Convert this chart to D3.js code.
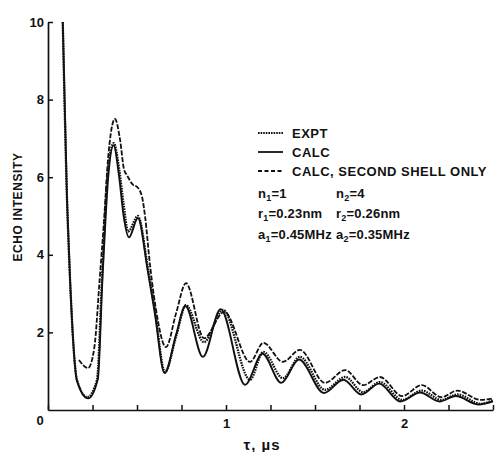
<!DOCTYPE html>
<html><head><meta charset="utf-8">
<script src="https://cdn.jsdelivr.net/npm/d3@7"></script>
<style>
html,body{margin:0;padding:0;background:#fff;}
svg text{font-family:"Liberation Sans",Arial,Helvetica,sans-serif;fill:#111;font-weight:bold;}
</style></head>
<body>
<svg id="c" width="495" height="452"></svg>
<script>
// ---- data ----
const xTicks = [0, 0.25, 0.5, 0.75, 1, 1.25, 1.5, 1.75, 2, 2.25, 2.5];
const xTickLabels = {0: "0", 1: "1", 2: "2"};
const yTicks = [2, 4, 6, 8, 10];
const yTickLabels = ["2", "4", "6", "8", "10"];

const tauExpt = [0.083,0.107,0.124,0.163,0.22,0.275,0.303,0.337,0.37,0.40,0.425,0.45,0.505,0.56,0.60,0.657,0.72,0.775,0.876,0.983,1.135,1.21,1.32,1.415,1.556,1.67,1.77,1.865,1.99,2.1,2.21,2.3,2.43,2.5];
const valExpt = [10.0,5.4,3.35,0.77,0.33,0.77,3.35,6.2,6.88,6.2,5.3,4.6,5.0,3.7,2.6,0.98,1.9,2.7,1.75,2.58,0.78,1.5,0.82,1.37,0.52,0.85,0.46,0.72,0.26,0.5,0.26,0.4,0.16,0.26];

const tauCalc = [0.083,0.107,0.124,0.163,0.225,0.28,0.306,0.34,0.368,0.40,0.425,0.455,0.505,0.56,0.60,0.655,0.72,0.772,0.87,0.97,1.107,1.205,1.31,1.41,1.55,1.66,1.76,1.86,1.98,2.09,2.2,2.29,2.42,2.5];
const valCalc = [10.0,5.4,3.35,0.75,0.3,0.8,3.4,6.1,6.82,6.0,5.0,4.45,4.95,3.6,2.5,0.95,1.95,2.68,1.37,2.6,0.65,1.45,0.7,1.3,0.44,0.78,0.4,0.68,0.22,0.45,0.22,0.36,0.14,0.22];

const tauShell2 = [0.174,0.225,0.26,0.29,0.315,0.337,0.376,0.405,0.427,0.444,0.478,0.5,0.528,0.545,0.573,0.607,0.663,0.72,0.775,0.876,0.99,1.135,1.21,1.32,1.415,1.556,1.67,1.77,1.865,1.99,2.1,2.21,2.3,2.43,2.5];
const valShell2 = [1.29,1.08,1.6,3.35,4.9,6.45,7.5,6.96,6.2,6.05,5.8,5.75,5.5,5.0,3.74,2.58,1.62,2.5,3.27,1.85,2.53,1.24,1.73,1.24,1.55,0.7,1.03,0.64,0.85,0.36,0.64,0.33,0.5,0.26,0.3];

const legendLabels = ["EXPT", "CALC", "CALC, SECOND SHELL ONLY"];
const paramLeft = [["n","1","=1"], ["r","1","=0.23nm"], ["a","1","=0.45MHz"]];
const paramRight = [["n","2","=4"], ["r","2","=0.26nm"], ["a","2","=0.35MHz"]];

// ---- drawing ----
const svg = d3.select("#c");
const x = d3.scaleLinear().domain([0, 2.5]).range([48, 493]);
const y = d3.scaleLinear().domain([0, 10]).range([410, 22]);

const series = [
  {tau: tauExpt, val: valExpt, dash: "1.6,1", w: 2.3},
  {tau: tauCalc, val: valCalc, dash: null, w: 1.9},
  {tau: tauShell2, val: valShell2, dash: "5,1.6", w: 1.8}
];

const line = d3.line().x(d => x(d[0])).y(d => y(d[1])).curve(d3.curveMonotoneX);
series.forEach(s => {
  const pts = s.tau.map((t, i) => [t, s.val[i]]);
  svg.append("path").attr("d", line(pts)).attr("fill", "none")
    .attr("stroke", "#111").attr("stroke-width", s.w)
    .attr("stroke-dasharray", s.dash).attr("stroke-linejoin", "round");
});

// axes
const xAxis = d3.axisBottom(x).tickValues(xTicks).tickSizeInner(-5).tickSizeOuter(0)
  .tickFormat(d => xTickLabels[d] !== undefined && d !== 0 ? xTickLabels[d] : "");
const gx = svg.append("g").attr("transform", "translate(0,410)").call(xAxis);
const yAxis = d3.axisLeft(y).tickValues(yTicks).tickSizeInner(-5).tickSizeOuter(0)
  .tickFormat((d, i) => yTickLabels[i]);
const gy = svg.append("g").attr("transform", "translate(48,0)").call(yAxis);
[gx, gy].forEach(g => {
  g.select(".domain").attr("stroke", "#111").attr("stroke-width", 1.7);
  g.selectAll(".tick line").attr("stroke", "#111").attr("stroke-width", 1.5);
  g.selectAll(".tick text").attr("font-size", 13).attr("fill", "#111")
    .style("font-family", "'Liberation Sans',Arial,sans-serif").style("font-weight", "bold");
});
gx.selectAll(".tick text").attr("y", 9).attr("dy", "0.71em");
gy.selectAll(".tick text").attr("x", -4);
// origin label
svg.append("text").attr("x", 40).attr("y", 425).attr("text-anchor", "middle")
  .attr("font-size", 13).text(xTickLabels[0]);

// axis titles
svg.append("text").attr("transform", "translate(22,207) rotate(-90)")
  .attr("text-anchor", "middle").attr("font-size", 12).attr("letter-spacing", 0.6)
  .text("ECHO INTENSITY");
svg.append("text").attr("x", 262).attr("y", 450).attr("text-anchor", "middle")
  .attr("font-size", 15).attr("letter-spacing", 1).text("τ, µs");

// legend
const legY = [133, 152, 171];
legendLabels.forEach((lab, i) => {
  const s = series[i];
  svg.append("line").attr("x1", 258).attr("x2", 283).attr("y1", legY[i]).attr("y2", legY[i])
    .attr("stroke", "#111").attr("stroke-width", i === 0 ? 2.2 : 1.8)
    .attr("stroke-dasharray", i === 2 ? "4,2.5" : s.dash);
  svg.append("text").attr("x", 292).attr("y", legY[i] + 5).attr("font-size", 13)
    .attr("letter-spacing", 0.5).text(lab);
});

// parameters
const parY = [193, 213, 234];
function param(p, xp, yp) {
  const t = svg.append("text").attr("x", xp).attr("y", yp + 5).attr("font-size", 13).attr("letter-spacing", 0.2);
  t.append("tspan").text(p[0]);
  t.append("tspan").attr("font-size", 9).attr("dy", 3).text(p[1]);
  t.append("tspan").attr("dy", -3).text(p[2]);
}
paramLeft.forEach((p, i) => param(p, 258, parY[i]));
paramRight.forEach((p, i) => param(p, 336, parY[i]));
</script>
</body></html>
